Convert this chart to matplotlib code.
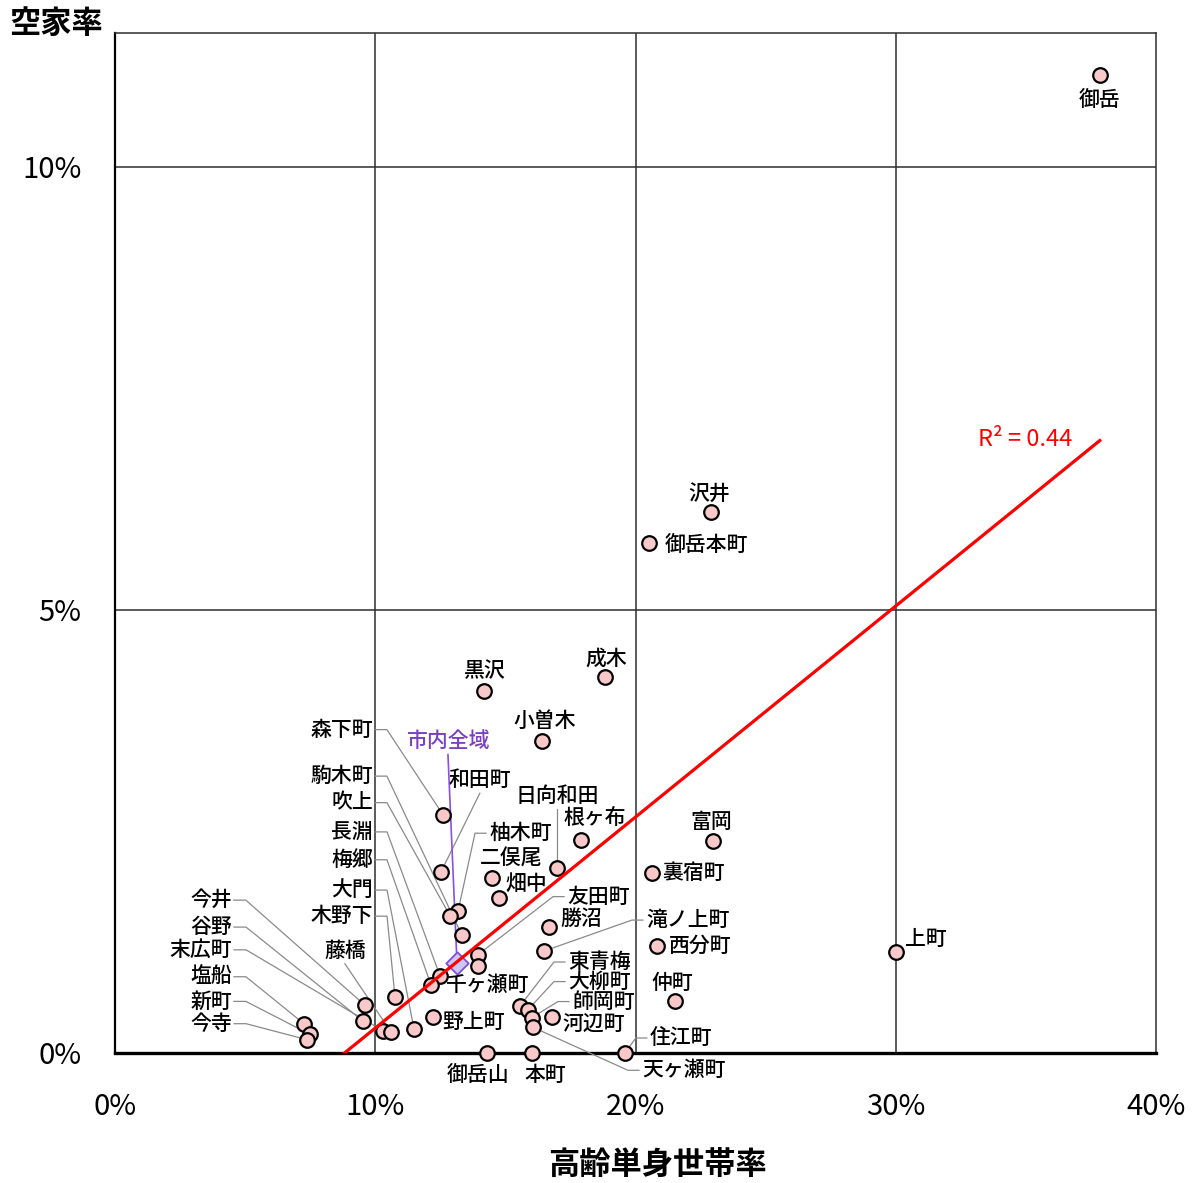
import numpy as np
import matplotlib
matplotlib.use("Agg")
import matplotlib.pyplot as plt
from matplotlib.ticker import FixedLocator

plt.rcParams['font.family'] = ['Noto Sans CJK JP', 'DejaVu Sans']

# 地区別:高齢単身世帯率(%)と空家率(%)
districts = [
    "御岳", "沢井", "御岳本町", "成木", "黒沢", "小曽木", "森下町", "和田町",
    "富岡", "根ヶ布", "日向和田", "裏宿町", "二俣尾", "畑中", "柚木町", "吹上",
    "駒木町", "勝沼", "滝ノ上町", "西分町", "上町", "仲町", "住江町", "友田町",
    "千ヶ瀬町", "長淵", "梅郷", "野上町", "大門", "木野下", "末広町", "藤橋",
    "今井", "谷野", "塩船", "新町", "今寺", "御岳山", "本町", "東青梅",
    "大柳町", "師岡町", "天ヶ瀬町", "河辺町",
]
single_elderly_rate = [
    37.84, 22.90, 20.51, 18.82, 14.18, 16.40, 12.60, 12.52,
    22.97, 17.90, 16.98, 20.63, 14.48, 14.75, 13.18, 12.87,
    13.33, 16.67, 16.48, 20.82, 30.00, 21.51, 19.59, 13.95,
    13.95, 12.49, 12.14, 12.22, 11.49, 10.76, 10.30, 10.60,
    9.60, 9.53, 7.26, 7.49, 7.38, 14.29, 16.02, 15.56,
    15.87, 16.02, 16.06, 16.79,
]
vacancy_rate = [
    11.04, 6.11, 5.76, 4.24, 4.09, 3.52, 2.69, 2.04,
    2.39, 2.40, 2.09, 2.03, 1.98, 1.75, 1.60, 1.55,
    1.33, 1.42, 1.15, 1.21, 1.14, 0.59, 0.00, 1.11,
    0.98, 0.87, 0.77, 0.41, 0.27, 0.63, 0.25, 0.24,
    0.54, 0.36, 0.33, 0.21, 0.15, 0.00, 0.00, 0.53,
    0.49, 0.40, 0.29, 0.41,
]

city_name = "市内全域"
city_single_elderly_rate = 13.14
city_vacancy_rate = 1.02

x_ticks = [0, 10, 20, 30, 40]
x_tick_labels = ["0%", "10%", "20%", "30%", "40%"]
y_ticks = [0, 5, 10]
y_tick_labels = ["0%", "5%", "10%"]
x_title = "高齢単身世帯率"
y_title = "空家率"
r2_text = "R² = 0.44"

# ラベル配置 (ピクセルのオフセット dx, dy, 横揃え, 引き出し線の種類)
label_layout = {
    "御岳": (0, -25, "center", None),
    "沢井": (-2, 18, "center", None),
    "御岳本町": (16, -2, "left", None),
    "成木": (1, 19, "center", None),
    "黒沢": (1, 19, "center", None),
    "小曽木": (3, 20, "center", None),
    "森下町": (-70, 85, "right", "stub_r"),
    "和田町": (39, 92, "center", "top"),
    "駒木町": (-89, 159, "right", "stub_r"),
    "吹上": (-77, 113, "right", "stub_r"),
    "日向和田": (0, 72, "center", "top"),
    "根ヶ布": (14, 22, "center", None),
    "富岡": (-2, 19, "center", None),
    "長淵": (-67, 144, "right", "stub_r"),
    "柚木町": (31, 78, "left", "stub_l"),
    "梅郷": (-58, 125, "right", "stub_r"),
    "二俣尾": (19, 19, "center", None),
    "畑中": (7, 14, "left", None),
    "裏宿町": (11, 0, "left", None),
    "大門": (-41, 139, "right", "stub_r"),
    "友田町": (89, 58, "left", "stub_l"),
    "木野下": (-22, 81, "right", "stub_r"),
    "勝沼": (12, 8, "left", None),
    "今井": (-133, 105, "right", "stub_r"),
    "滝ノ上町": (102, 31, "left", "stub_l"),
    "谷野": (-131, 94, "right", "stub_r"),
    "西分町": (12, 0, "left", None),
    "末広町": (-151, 81, "right", "stub_r"),
    "藤橋": (-46, 81, "center", "top"),
    "上町": (9, 13, "left", None),
    "東青梅": (48, 44, "left", "stub_l"),
    "千ヶ瀬町": (10, -19, "center", None),
    "塩船": (-72, 47, "right", "stub_r"),
    "大柳町": (40, 28, "left", "stub_l"),
    "仲町": (-2, 18, "center", None),
    "新町": (-78, 33, "right", "stub_r"),
    "師岡町": (40, 16, "left", "stub_l"),
    "野上町": (9, -5, "left", None),
    "今寺": (-75, 16, "right", "stub_r"),
    "河辺町": (10, -8, "left", None),
    "住江町": (25, 15, "left", "stub_l"),
    "御岳山": (-9, -22, "center", None),
    "本町": (13, -22, "center", None),
    "天ヶ瀬町": (109, -43, "left", "stub_l"),
}

W, H = 1201, 1183
fig = plt.figure(figsize=(W / 100, H / 100), dpi=100)
ax = fig.add_axes([115 / W, 1 - 1053 / H, (1156 - 115) / W, (1053 - 33) / H])

ax.set_xlim(0, 40)
ax.set_ylim(0, 11.51)

grid_color = "#2e2e2e"
for v in x_ticks[1:-1]:
    ax.axvline(v, color=grid_color, lw=1.1, zorder=1)
for v in y_ticks[1:]:
    ax.axhline(v, color=grid_color, lw=1.1, zorder=1)

for side in ("top", "right"):
    ax.spines[side].set_color(grid_color)
    ax.spines[side].set_linewidth(1.1)
ax.spines["left"].set_color("black")
ax.spines["left"].set_linewidth(1.6)
ax.spines["bottom"].set_color("black")
ax.spines["bottom"].set_linewidth(2.4)
ax.spines["bottom"].set_zorder(3)

ax.xaxis.set_major_locator(FixedLocator(x_ticks))
ax.yaxis.set_major_locator(FixedLocator(y_ticks))
ax.set_xticklabels(x_tick_labels)
ax.set_yticklabels(y_tick_labels)
ax.tick_params(axis="both", length=0, labelsize=21, pad=24)
ax.tick_params(axis="x", pad=28)

x = np.array(single_elderly_rate)
y = np.array(vacancy_rate)

# 散布点
ax.scatter(x, y, s=110, facecolor="#F9C9C9", edgecolor="black",
           linewidth=1.6, zorder=5, clip_on=False)

# 市内全域
ax.scatter([city_single_elderly_rate], [city_vacancy_rate], marker="D", s=130,
           facecolor="#CFC6F7", edgecolor="#7B4FD6", linewidth=1.3,
           zorder=6, clip_on=False)

# 線形近似
slope, intercept = np.polyfit(x, y, 1)
xs = np.array([x.min(), x.max()])
ax.plot(xs, slope * xs + intercept, color="red", lw=2.3, zorder=7)

fig.canvas.draw()
to_px = ax.transData.transform
to_data = ax.transData.inverted().transform


def draw_leader(pts_px, color="#8a8a8a", lw=0.9):
    d = to_data(np.array(pts_px))
    ax.plot(d[:, 0], d[:, 1], color=color, lw=lw, zorder=4, clip_on=False)


def place_label(name, xv, yv, layout, color="black"):
    dx, dy, ha, kind = layout
    px, py = to_px((xv, yv))
    tx, ty = px + dx, py + dy
    tpos = to_data((tx, ty))
    ax.text(tpos[0], tpos[1], name, ha=ha, va="center", fontsize=15,
            fontweight="medium", color=color, zorder=8, clip_on=False)
    if kind == "stub_r":
        draw_leader([(tx + 2, ty), (tx + 14, ty), (px, py)])
    elif kind == "stub_l":
        draw_leader([(tx - 3, ty), (tx - 14, ty), (px, py)])
    elif kind == "top":
        draw_leader([(tx, ty - 13), (px, py)])


for name, xv, yv in zip(districts, single_elderly_rate, vacancy_rate):
    place_label(name, xv, yv, label_layout[name])

# 市内全域ラベル
cx, cy = to_px((city_single_elderly_rate, city_vacancy_rate))
ctx, cty = cx - 9, cy + 222
cpos = to_data((ctx, cty))
ax.text(cpos[0], cpos[1], city_name, ha="center", va="center", fontsize=15,
        fontweight="medium", color="#7B3FC4", zorder=8)
draw_leader([(ctx, cty - 14), (cx, cy)], color="#8A4FE0", lw=1.2)

# 決定係数
ex, ey = to_px((x.max(), slope * x.max() + intercept))
rpos = to_data((ex - 28, ey + 1))
ax.text(rpos[0], rpos[1], r2_text, ha="right", va="center", fontsize=17,
        color="red", zorder=8)

# 軸タイトル
fig.text(9 / W, 1 - 24 / H, y_title, ha="left", va="center",
         fontsize=22.5, fontweight="bold")
fig.text(657 / W, 1 - 1165 / H, x_title, ha="center", va="center",
         fontsize=22.5, fontweight="bold")

fig.savefig("out.png", dpi=100, facecolor="white")
